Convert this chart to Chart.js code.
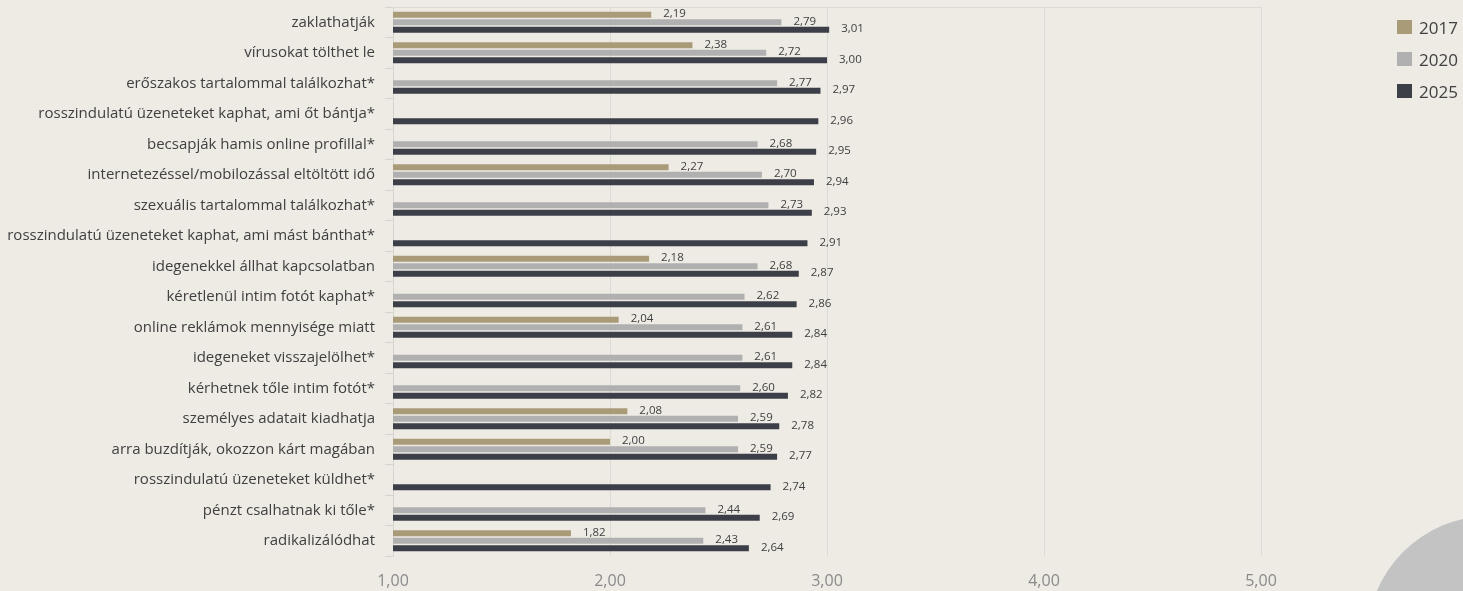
<!DOCTYPE html>
<html>
<head>
<meta charset="utf-8">
<script src="https://cdn.jsdelivr.net/npm/chart.js@4/dist/chart.umd.min.js"></script>
<style>
    html, body { margin: 0; padding: 0; background: #EEEBE5; overflow: hidden; }
    #wrap { position: relative; width: 1463px; height: 591px; }
    #blob { position: absolute; left: 1367px; top: 516px; width: 246px; height: 246px; border-radius: 50%; background: #C3C3C3; }
    #chart { position: absolute; left: 0; top: 0; }
    #legend { position: absolute; left: 1397px; top: 16px; font-family: "Open Sans", sans-serif; font-size: 17px; color: #404040; }
    #legend div { height: 32px; display: flex; align-items: flex-start; white-space: nowrap; }
    #legend span.box { display: inline-block; width: 15px; height: 14px; margin: 4px 7px 0 0; }
</style>
</head>
<body>
<div id="wrap">
    <div id="blob"></div>
    <canvas id="chart" width="1463" height="591"></canvas>
    <div id="legend"></div>
</div>
<script>
// kategóriák (felülről lefelé)
const categories = [
    'zaklathatják',
    'vírusokat tölthet le',
    'erőszakos tartalommal találkozhat*',
    'rosszindulatú üzeneteket kaphat, ami őt bántja*',
    'becsapják hamis online profillal*',
    'internetezéssel/mobilozással eltöltött idő',
    'szexuális tartalommal találkozhat*',
    'rosszindulatú üzeneteket kaphat, ami mást bánthat*',
    'idegenekkel állhat kapcsolatban',
    'kéretlenül intim fotót kaphat*',
    'online reklámok mennyisége miatt',
    'idegeneket visszajelölhet*',
    'kérhetnek tőle intim fotót*',
    'személyes adatait kiadhatja',
    'arra buzdítják, okozzon kárt magában',
    'rosszindulatú üzeneteket küldhet*',
    'pénzt csalhatnak ki tőle*',
    'radikalizálódhat'
];

const years = ['2017', '2020', '2025'];

const values2017 = [2.19, 2.38, null, null, null, 2.27, null, null, 2.18, null, 2.04, null, null, 2.08, 2.00, null, null, 1.82];
const values2020 = [2.79, 2.72, 2.77, null, 2.68, 2.70, 2.73, null, 2.68, 2.62, 2.61, 2.61, 2.60, 2.59, 2.59, null, 2.44, 2.43];
const values2025 = [3.01, 3.00, 2.97, 2.96, 2.95, 2.94, 2.93, 2.91, 2.87, 2.86, 2.84, 2.84, 2.82, 2.78, 2.77, 2.74, 2.69, 2.64];

const xTicks = [1, 2, 3, 4, 5];

const colors = ['#A99A78', '#B0B0B0', '#3D3F48'];

function huNum(v) {
    return v.toFixed(2).replace('.', ',');
}

// saját legenda
const legendEl = document.getElementById('legend');
years.forEach((y, i) => {
    const row = document.createElement('div');
    row.innerHTML = '<span class="box" style="background:' + colors[i] + '"></span>' + y;
    legendEl.appendChild(row);
});

// értékcímkék a sávok mellé
const barLabels = {
    id: 'barLabels',
    afterDatasetsDraw(chart) {
        const ctx = chart.ctx;
        ctx.save();
        ctx.font = '11.5px "Open Sans", sans-serif';
        ctx.fillStyle = '#404040';
        ctx.textAlign = 'left';
        ctx.textBaseline = 'middle';
        chart.data.datasets.forEach((ds, di) => {
            chart.getDatasetMeta(di).data.forEach((bar, i) => {
                const v = ds.data[i];
                if (v === null || v === undefined) return;
                ctx.fillText(huNum(v), bar.x + 12, bar.y - 1);
            });
        });
        ctx.restore();
    }
};

// felső vonal a rajzterület fölött
const topLine = {
    id: 'topLine',
    beforeDatasetsDraw(chart) {
        const a = chart.chartArea;
        const ctx = chart.ctx;
        ctx.save();
        ctx.strokeStyle = '#DCDAD5';
        ctx.lineWidth = 1;
        ctx.beginPath();
        ctx.moveTo(a.left, a.top + 0.5);
        ctx.lineTo(a.right, a.top + 0.5);
        ctx.stroke();
        ctx.restore();
    }
};

new Chart(document.getElementById('chart').getContext('2d'), {
    type: 'bar',
    data: {
        labels: categories,
        datasets: [
            { label: years[0], data: values2017, backgroundColor: colors[0] },
            { label: years[1], data: values2020, backgroundColor: colors[1] },
            { label: years[2], data: values2025, backgroundColor: colors[2] }
        ]
    },
    options: {
        indexAxis: 'y',
        responsive: false,
        animation: false,
        datasets: { bar: { categoryPercentage: 0.74, barPercentage: 0.82 } },
        layout: { padding: { top: 7, right: 202, bottom: 1, left: 0 } },
        plugins: { legend: { display: false }, tooltip: { enabled: false } },
        scales: {
            x: {
                min: 1,
                max: 5,
                afterBuildTicks: (s) => { s.ticks = xTicks.map(v => ({ value: v })); },
                afterFit: (s) => { s.height = 34; },
                grid: { color: '#DCDAD5', drawTicks: false },
                border: { display: false },
                ticks: {
                    padding: 16,
                    color: '#8A8A8A',
                    font: { family: '"Open Sans", sans-serif', size: 16 },
                    callback: (v) => huNum(v)
                }
            },
            y: {
                afterFit: (s) => { s.width = 393; s.paddingTop = 0; s.paddingBottom = 0; },
                grid: { offset: true, drawOnChartArea: false, tickLength: 8, color: '#D6D4CF' },
                border: { color: '#D6D4CF' },
                ticks: {
                    padding: 10,
                    autoSkip: false,
                    color: '#404040',
                    font: { family: '"Open Sans", sans-serif', size: 15 }
                }
            }
        }
    },
    plugins: [topLine, barLabels]
});
</script>
</body>
</html>
